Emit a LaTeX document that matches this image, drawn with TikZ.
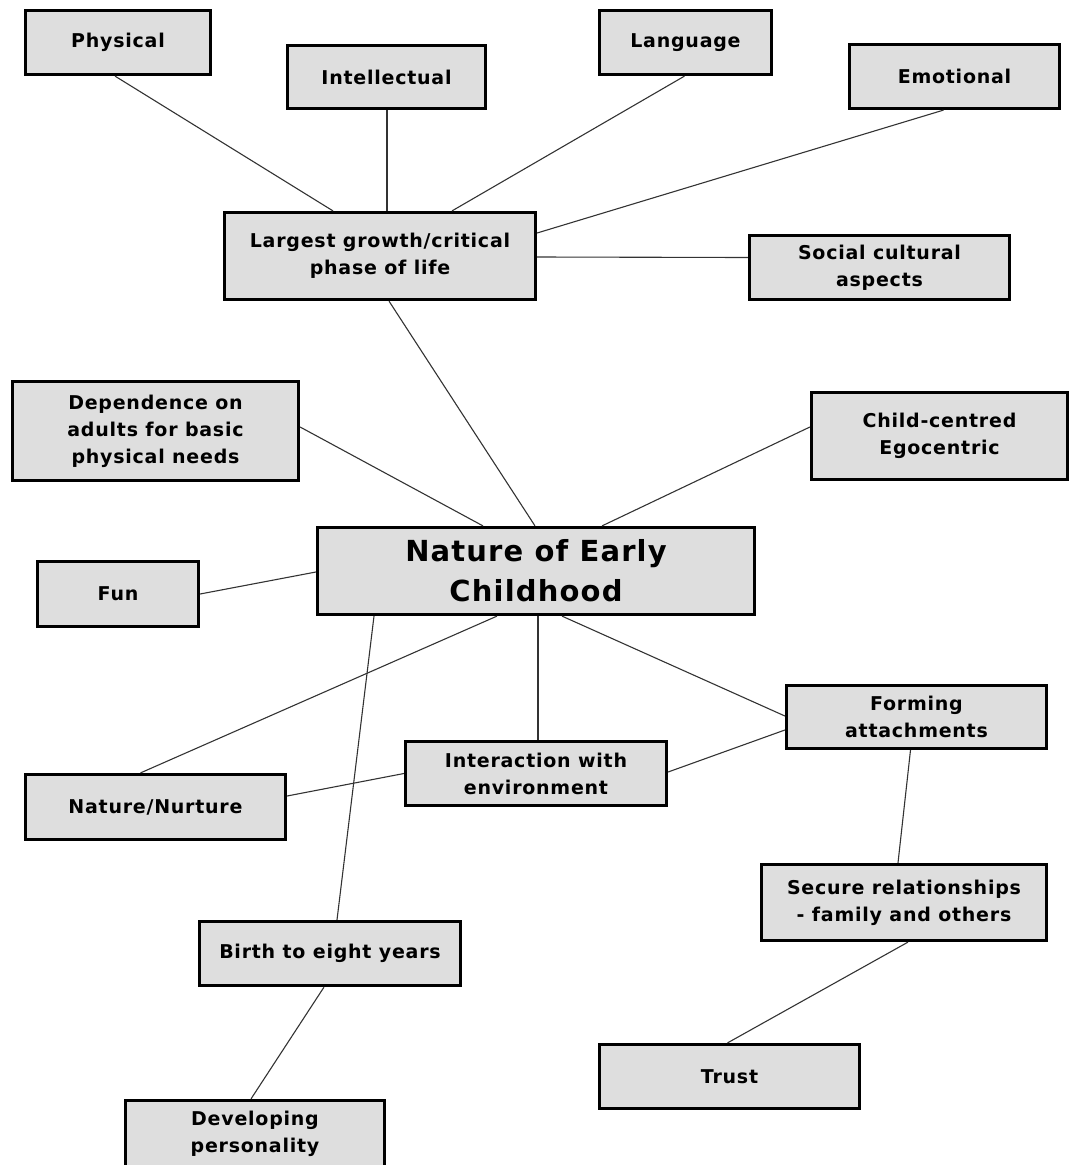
\documentclass[tikz,border=0pt]{standalone}
\usepackage{fontspec}
\setmainfont{DejaVu Sans}[LetterSpace=4]
\definecolor{boxfill}{HTML}{DEDEDE}
\definecolor{linec}{HTML}{333333}
\tikzset{
  bx/.style 2 args={draw=black, line width=3.2pt, fill=boxfill, rectangle,
    minimum width=#1pt, minimum height=#2pt, inner sep=0pt, align=center,
    font=\bfseries\fontsize{19}{27}\selectfont},
  conn/.style={draw=linec, line width=1.1pt}
}
\begin{document}
\begin{tikzpicture}[x=1pt,y=-1pt]
\useasboundingbox (0,0) rectangle (1071,1165);
\clip (0,0) rectangle (1071,1165);
\node[bx={185}{64}] (phys) at (118,42.5) {Physical};
\node[bx={198}{63}] (intel) at (386.5,77) {Intellectual};
\node[bx={172}{64}] (lang) at (685.5,42.5) {Language};
\node[bx={210}{64}] (emo) at (954.5,76.5) {Emotional};
\node[bx={311}{87}] (lg) at (380,256) {Largest growth/critical\\phase of life};
\node[bx={260}{64}] (soc) at (879.5,267.5) {Social cultural\\aspects};
\node[bx={286}{99}] (dep) at (155.5,431) {Dependence on\\adults for basic\\physical needs};
\node[bx={256}{87}] (child) at (939.5,436) {Child-centred\\Egocentric};
\node[bx={437}{87}, font=\bfseries\fontsize{29}{40}\selectfont] (nat) at (536,571) {Nature of Early\\Childhood};
\node[bx={161}{65}] (fun) at (118,594) {Fun};
\node[bx={260}{63}] (form) at (916.5,717) {Forming\\attachments};
\node[bx={261}{64}] (int) at (536,773.5) {Interaction with\\environment};
\node[bx={260}{65}] (nn) at (155.5,807) {Nature/Nurture};
\node[bx={285}{76}] (sec) at (904,902.5) {Secure relationships\\- family and others};
\node[bx={261}{64}] (birth) at (330,953.5) {Birth to eight years};
\node[bx={260}{64}] (trust) at (729.5,1076.5) {Trust};
\node[bx={259}{67}] (dev) at (255,1134) {Developing\\personality};
\draw[conn] ([xshift=-3pt]phys.south) -- ([xshift=-47pt]lg.north);
\draw[conn] ([xshift=0.5pt]intel.south) -- ([xshift=7pt]lg.north);
\draw[conn] ([xshift=-1pt]lang.south) -- ([xshift=72pt]lg.north);
\draw[conn] ([xshift=-11pt]emo.south) -- ([yshift=23pt]lg.east);
\draw[conn] ([yshift=-1pt]lg.east) -- ([yshift=10pt]soc.west);
\draw[conn] ([xshift=9pt]lg.south) -- ([xshift=-1pt]nat.north);
\draw[conn] ([yshift=4pt]dep.east) -- ([xshift=-53pt]nat.north);
\draw[conn] ([yshift=9pt]child.west) -- ([xshift=66pt]nat.north);
\draw[conn] (fun.east) -- ([yshift=-1pt]nat.west);
\draw[conn] ([xshift=-39pt]nat.south) -- ([xshift=-15pt]nn.north);
\draw[conn] ([xshift=-162pt]nat.south) -- ([xshift=7pt]birth.north);
\draw[conn] ([xshift=2pt]nat.south) -- ([xshift=2pt]int.north);
\draw[conn] ([xshift=26pt]nat.south) -- ([yshift=1pt]form.west);
\draw[conn] (int.west) -- ([yshift=11pt]nn.east);
\draw[conn] ([yshift=1.5pt]int.east) -- ([yshift=-13pt]form.west);
\draw[conn] ([xshift=-6pt]form.south) -- ([xshift=-6pt]sec.north);
\draw[conn] ([xshift=4pt]sec.south) -- ([xshift=-2pt]trust.north);
\draw[conn] ([xshift=-6pt]birth.south) -- ([xshift=-4pt]dev.north);
\end{tikzpicture}
\end{document}
